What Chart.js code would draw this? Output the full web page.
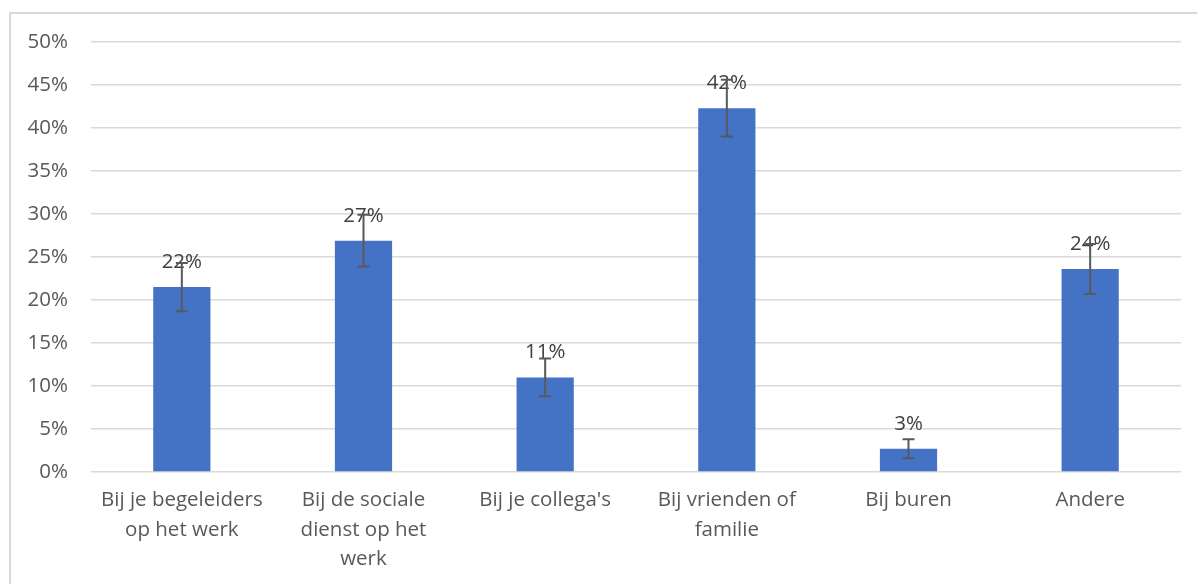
<!DOCTYPE html>
<html>
<head>
<meta charset="utf-8">
<script src="https://cdn.jsdelivr.net/npm/chart.js@4/dist/chart.umd.min.js"></script>
<style>
  html, body { margin: 0; padding: 0; background: #fff; overflow: hidden; }
  #wrap { position: relative; width: 1197px; height: 584px; }
  #frame { position: absolute; left: 9px; top: 12px; width: 2000px; height: 2000px;
           border-top: 2px solid #d9d9d9; border-left: 2px solid #d9d9d9; }
  canvas { position: absolute; left: 0; top: 0; }
</style>
</head>
<body>
<div id="wrap">
  <div id="frame"></div>
  <canvas id="myChart1" width="1197" height="584"></canvas>
</div>
<script>
// categories (wrapped as in the picture)
const categories = [
  ['Bij je begeleiders', 'op het werk'],
  ['Bij de sociale', 'dienst op het', 'werk'],
  ["Bij je collega's"],
  ['Bij vrienden of', 'familie'],
  ['Bij buren'],
  ['Andere']
];
const values = [21.5, 26.9, 11.0, 42.3, 2.7, 23.6];
const errors = [2.8, 3.0, 2.2, 3.3, 1.1, 2.9];
const tickValues = [0, 5, 10, 15, 20, 25, 30, 35, 40, 45, 50];

const textFont = "'Open Sans', 'Noto Sans', sans-serif";

// error bars + value labels, positioned through the chart's own scales
const extras = {
  id: 'extras',
  afterDatasetsDraw(chart) {
    const ctx = chart.ctx;
    const y = chart.scales.y;
    const meta = chart.getDatasetMeta(0);
    ctx.save();
    meta.data.forEach((bar, i) => {
      // label
      ctx.fillStyle = '#404040';
      ctx.font = '20.5px ' + textFont;
      ctx.textAlign = 'center';
      ctx.textBaseline = 'middle';
      ctx.fillText(Math.round(values[i]) + '%', bar.x, bar.y - 25);
      // error bar
      const top = y.getPixelForValue(values[i] + errors[i]);
      const bot = y.getPixelForValue(values[i] - errors[i]);
      ctx.strokeStyle = '#595959';
      ctx.lineWidth = 2;
      ctx.beginPath();
      ctx.moveTo(bar.x, top); ctx.lineTo(bar.x, bot);
      ctx.moveTo(bar.x - 6, top); ctx.lineTo(bar.x + 6, top);
      ctx.moveTo(bar.x - 6, bot); ctx.lineTo(bar.x + 6, bot);
      ctx.stroke();
    });
    ctx.restore();
  }
};

const ctx1 = document.getElementById('myChart1');

new Chart(ctx1, {
  type: 'bar',
  data: {
    labels: categories,
    datasets: [{
      data: values,
      backgroundColor: '#4472c4',
      barPercentage: 0.315,
      categoryPercentage: 1
    }]
  },
  options: {
    responsive: false,
    animation: false,
    layout: { padding: { top: 42, right: 16, left: 0, bottom: 0 } },
    plugins: { legend: { display: false }, tooltip: { enabled: false } },
    scales: {
      y: {
        min: 0,
        max: 50,
        afterFit(scale) { scale.width = 91; },
        afterBuildTicks(scale) { scale.ticks = tickValues.map(v => ({ value: v })); },
        border: { display: false },
        grid: { color: '#d9d9d9', lineWidth: 1.5, drawTicks: false },
        ticks: {
          padding: 23,
          color: '#595959',
          font: { family: textFont, size: 20.5 },
          callback: v => v + '%'
        }
      },
      x: {
        afterFit(scale) { scale.height = 112; },
        border: { display: false },
        grid: { display: false, drawTicks: false },
        ticks: {
          padding: 14,
          color: '#595959',
          maxRotation: 0,
          autoSkip: false,
          font: { family: textFont, size: 20.5, lineHeight: 1.42 }
        }
      }
    }
  },
  plugins: [extras]
});
</script>
</body>
</html>
